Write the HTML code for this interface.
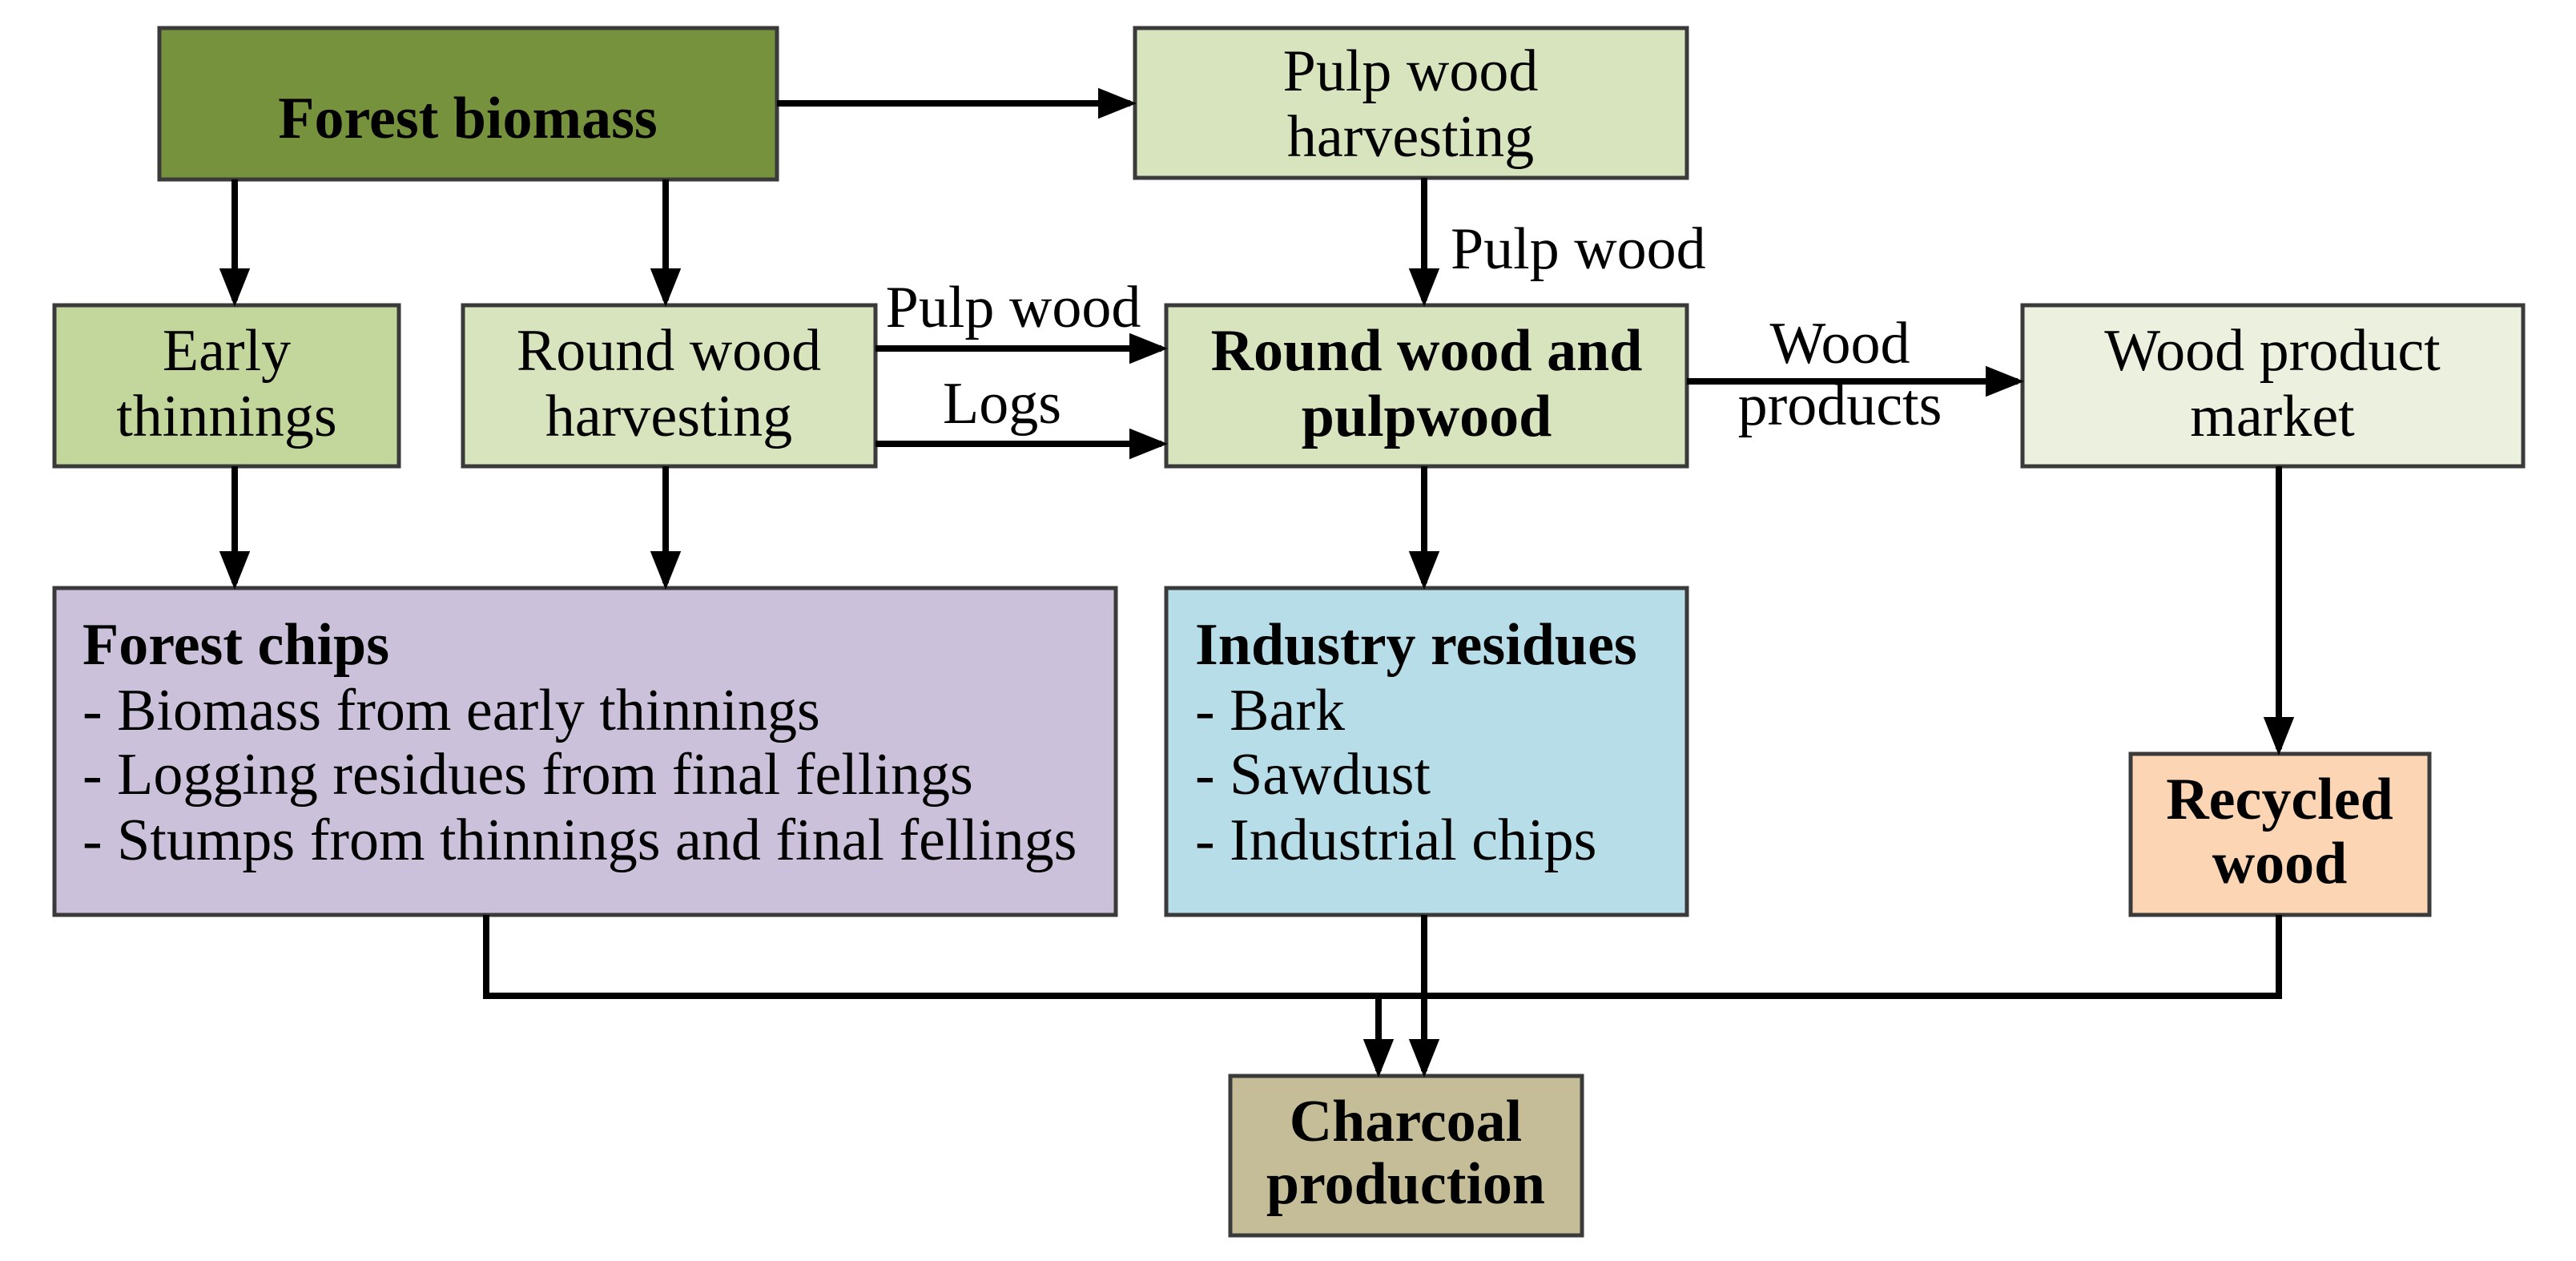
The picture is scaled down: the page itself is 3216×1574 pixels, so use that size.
<!DOCTYPE html>
<html><head><meta charset="utf-8"><style>
html,body{margin:0;padding:0;background:#fff;}
svg{display:block;}
text{font-family:"Liberation Serif",serif;font-size:74px;fill:#000;}
.b{font-weight:bold;}
</style></head><body>
<svg width="3216" height="1574" viewBox="0 0 3216 1574" xmlns="http://www.w3.org/2000/svg">
<defs>
<marker id="ah" markerWidth="6" markerHeight="6" refX="5" refY="3" orient="auto" markerUnits="strokeWidth">
<path d="M0,0.6 L6,3 L0,5.4 z" fill="#000"/>
</marker>
</defs>
<g stroke="#3a3a3a" stroke-width="5">
<rect x="199" y="35" width="771" height="189" fill="#76923c"/>
<rect x="1417" y="35" width="689" height="187" fill="#d7e4bd"/>
<rect x="68" y="381" width="430" height="201" fill="#c3d69b"/>
<rect x="578" y="381" width="515" height="201" fill="#d7e4bd"/>
<rect x="1456" y="381" width="650" height="201" fill="#d7e4bd"/>
<rect x="2525" y="381" width="625" height="201" fill="#ebf1de"/>
<rect x="68" y="734" width="1325" height="408" fill="#ccc1da"/>
<rect x="1456" y="734" width="650" height="408" fill="#b7dde8"/>
<rect x="2660" y="941" width="373" height="201" fill="#fcd5b5"/>
<rect x="1536" y="1343" width="439" height="199" fill="#c4bd97"/>
</g>
<g stroke="#000" stroke-width="8" fill="none" marker-end="url(#ah)">
<line x1="970" y1="129" x2="1411" y2="129"/>
<line x1="293" y1="224" x2="293" y2="375"/>
<line x1="831" y1="224" x2="831" y2="375"/>
<line x1="1778" y1="222" x2="1778" y2="375"/>
<line x1="1093" y1="435" x2="1450" y2="435"/>
<line x1="1093" y1="554" x2="1450" y2="554"/>
<line x1="2106" y1="476" x2="2519" y2="476"/>
<line x1="293" y1="582" x2="293" y2="728"/>
<line x1="831" y1="582" x2="831" y2="728"/>
<line x1="1778" y1="582" x2="1778" y2="728"/>
<line x1="2845" y1="582" x2="2845" y2="935"/>
<line x1="1721" y1="1243" x2="1721" y2="1337"/>
<line x1="1778" y1="1142" x2="1778" y2="1337"/>
</g>
<polyline points="607,1142 607,1243 2845,1243 2845,1142" stroke="#000" stroke-width="8" fill="none"/>
<g text-anchor="middle">
<text class="b" x="584" y="172">Forest biomass</text>
<text x="1761" y="113">Pulp wood</text>
<text x="1761" y="195">harvesting</text>
<text x="283" y="462">Early</text>
<text x="283" y="544">thinnings</text>
<text x="835" y="462">Round wood</text>
<text x="835" y="544">harvesting</text>
<text class="b" x="1781" y="462">Round wood and</text>
<text class="b" x="1781" y="544">pulpwood</text>
<text x="2837" y="462">Wood product</text>
<text x="2837" y="544">market</text>
<text class="b" x="2846" y="1022">Recycled</text>
<text class="b" x="2846" y="1102">wood</text>
<text class="b" x="1755" y="1424">Charcoal</text>
<text class="b" x="1755" y="1502">production</text>
<text x="1265" y="408">Pulp wood</text>
<text x="1251" y="528">Logs</text>
<text x="2297" y="453">Wood</text>
<text x="2297" y="530">products</text>
</g>
<text x="1811" y="335">Pulp wood</text>
<text class="b" x="103" y="829">Forest chips</text>
<text x="103" y="911">- Biomass from early thinnings</text>
<text x="103" y="991">- Logging residues from final fellings</text>
<text x="103" y="1073">- Stumps from thinnings and final fellings</text>
<text class="b" x="1492" y="829">Industry residues</text>
<text x="1492" y="911">- Bark</text>
<text x="1492" y="991">- Sawdust</text>
<text x="1492" y="1073">- Industrial chips</text>
</svg>
</body></html>
